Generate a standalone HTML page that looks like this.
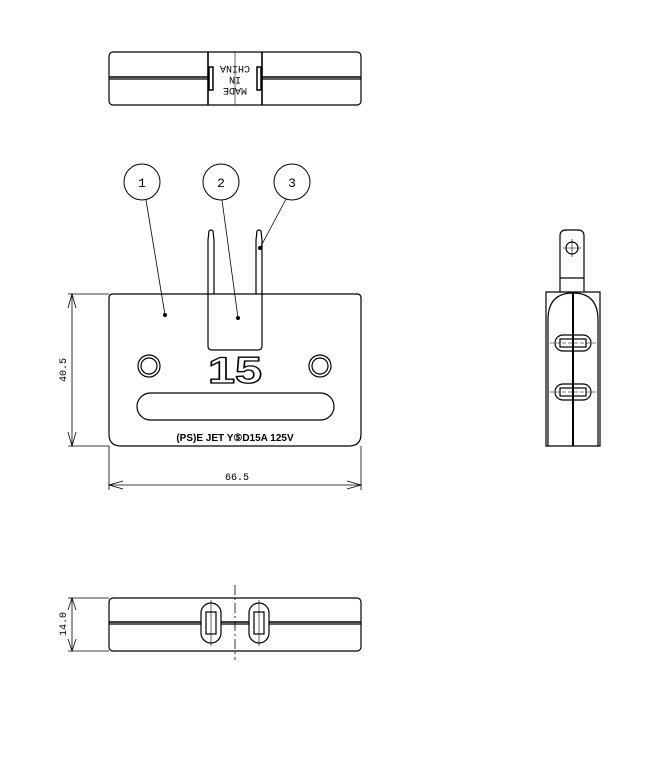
<!DOCTYPE html>
<html><head><meta charset="utf-8"><style>html,body{margin:0;padding:0;background:#fff}svg{display:block}</style></head><body>
<svg width="662" height="767" viewBox="0 0 662 767" xmlns="http://www.w3.org/2000/svg" font-family="Liberation Sans, sans-serif">
<g fill="none" stroke="#000" stroke-width="1.2">
<!-- top view -->
<rect x="109" y="52" width="252" height="53" rx="4"/>
<line x1="109" y1="77" x2="208" y2="77" stroke-width="1.5"/><line x1="109" y1="79" x2="208" y2="79"/>
<line x1="262" y1="77" x2="361" y2="77" stroke-width="1.5"/><line x1="262" y1="79" x2="361" y2="79"/>
<line x1="208" y1="52" x2="208" y2="105" stroke-width="1.6"/><line x1="262" y1="52" x2="262" y2="105" stroke-width="1.6"/>
<line x1="235" y1="52" x2="235" y2="105" stroke-width="0.6"/>
<rect x="209" y="67" width="4" height="23" stroke-width="1.5"/><rect x="257" y="67" width="4" height="23" stroke-width="1.5"/>
</g>
<g transform="translate(235,78) rotate(180)" font-size="10" text-anchor="middle" fill="#000" font-family="Liberation Mono, monospace"><text x="0" y="-10">MADE</text><text x="0" y="1">IN</text><text x="0" y="12">CHINA</text></g>

<!-- front view -->
<g fill="none" stroke="#000" stroke-width="1.2">
<path d="M113 294 H357 Q361 294 361 298 V434 Q361 446 349 446 H121 Q109 446 109 434 V298 Q109 294 113 294 Z"/>
<path d="M208 294 V346 Q208 350 212 350 H258 Q262 350 262 346 V294"/>
<path d="M208 294 V240 L209 231 Q211 229 213 231 L214 240 V294"/>
<path d="M256 294 V240 L257 231 Q259 229 261 231 L262 240 V294"/>
<circle cx="149" cy="366" r="11"/><circle cx="149" cy="366" r="8"/>
<circle cx="320" cy="366" r="11"/><circle cx="320" cy="366" r="8"/>
<rect x="137" y="393" width="197" height="27" rx="13.5"/>
<circle cx="142" cy="182" r="18" stroke-width="1"/><circle cx="221" cy="182" r="18" stroke-width="1"/><circle cx="292" cy="182" r="18" stroke-width="1"/>
<g stroke-width="0.8"><line x1="146" y1="200" x2="165" y2="315"/><line x1="222" y1="200" x2="238" y2="318"/><line x1="286" y1="199" x2="260" y2="248"/></g>
<!-- dims -->
<g stroke-width="0.8">
<line x1="68" y1="294" x2="109" y2="294"/><line x1="68" y1="446" x2="109" y2="446"/>
<line x1="72" y1="294" x2="72" y2="446"/>
<path d="M68 308 L72 294 L76 308 M68 432 L72 446 L76 432"/>
<line x1="109" y1="446" x2="109" y2="490"/><line x1="361" y1="446" x2="361" y2="490"/>
<line x1="109" y1="485" x2="361" y2="485"/>
<path d="M123 481 L109 485 L123 489 M347 481 L361 485 L347 489"/>
</g>
</g>
<g fill="#000"><circle cx="165" cy="315" r="2"/><circle cx="238" cy="318" r="2"/><circle cx="260" cy="248" r="2"/></g>
<g font-size="13" text-anchor="middle" fill="#000" font-family="Liberation Mono, monospace"><text x="142" y="187">1</text><text x="221" y="187">2</text><text x="292" y="187">3</text></g>
<text x="235" y="383" font-size="37" font-weight="bold" text-anchor="middle" fill="#fff" stroke="#000" stroke-width="1.3" textLength="54" lengthAdjust="spacingAndGlyphs">15</text>
<text x="235" y="441" font-size="10" font-weight="bold" text-anchor="middle" fill="#000">(PS)E JET Y⑤D15A 125V</text>
<text x="237" y="480" font-size="10" text-anchor="middle" fill="#000" font-family="Liberation Mono, monospace">66.5</text>
<text transform="translate(66,370) rotate(-90)" font-size="10" text-anchor="middle" fill="#000" font-family="Liberation Mono, monospace">40.5</text>

<!-- side view -->
<g fill="none" stroke="#000" stroke-width="1.2">
<path d="M560 292 V236 Q560 230 566 230 H578 Q584 230 584 236 V292"/>
<circle cx="572" cy="248" r="6"/>
<g stroke-width="0.6"><line x1="563" y1="248" x2="581" y2="248"/><line x1="572" y1="239" x2="572" y2="257"/></g>
<line x1="560" y1="278" x2="584" y2="278"/>
<path d="M546 292 H600 V446 H546 Z"/>
<path d="M548 446 V320 Q548 293 573 293 Q598 293 598 320 V446"/>
<line x1="573" y1="293" x2="573" y2="446" stroke-width="2"/>
<rect x="555" y="335" width="36" height="16" rx="8"/><rect x="560" y="339" width="26" height="8"/>
<rect x="555" y="384" width="36" height="16" rx="8"/><rect x="560" y="388" width="26" height="8"/>
<g stroke-width="0.6" stroke-dasharray="4 2"><line x1="550" y1="343" x2="596" y2="343"/><line x1="550" y1="392" x2="596" y2="392"/></g>
</g>

<!-- bottom view -->
<g fill="none" stroke="#000" stroke-width="1.2">
<rect x="109" y="598" width="252" height="53" rx="4"/>
<line x1="109" y1="622" x2="361" y2="622" stroke-width="1.5"/><line x1="109" y1="624" x2="361" y2="624"/>
<rect x="201" y="603" width="20" height="40" rx="10" fill="#fff"/><rect x="206" y="612" width="10" height="22"/>
<rect x="249" y="603" width="20" height="40" rx="10" fill="#fff"/><rect x="254" y="612" width="10" height="22"/>
<g stroke-width="0.6"><line x1="211" y1="600" x2="211" y2="646"/><line x1="259" y1="600" x2="259" y2="646"/></g>
<line x1="235" y1="585" x2="235" y2="660" stroke-width="0.8" stroke-dasharray="10 3 2 3"/>
<g stroke-width="0.8">
<line x1="68" y1="598" x2="109" y2="598"/><line x1="68" y1="651" x2="109" y2="651"/>
<line x1="72" y1="598" x2="72" y2="651"/>
<path d="M68 610 L72 598 L76 610 M68 639 L72 651 L76 639"/>
</g>
</g>
<text transform="translate(66,624) rotate(-90)" font-size="10" text-anchor="middle" fill="#000" font-family="Liberation Mono, monospace">14.0</text>
</svg>
</body></html>
